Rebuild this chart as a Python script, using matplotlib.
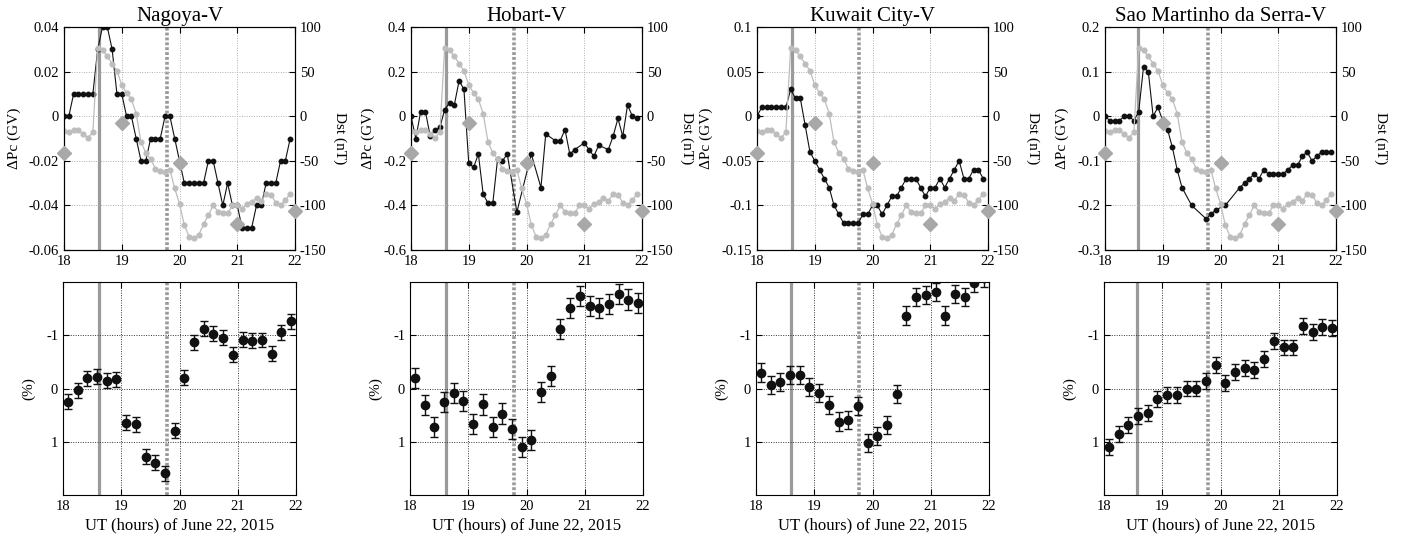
import numpy as np
import matplotlib
matplotlib.use('Agg')
import matplotlib.pyplot as plt
from matplotlib.ticker import FuncFormatter, MultipleLocator

plt.rcParams['font.family'] = ['Liberation Serif', 'DejaVu Serif']
plt.rcParams['axes.unicode_minus'] = False
plt.rcParams['mathtext.fontset'] = 'custom'

stations = ['Nagoya-V', 'Hobart-V', 'Kuwait City-V', 'Sao Martinho da Serra-V']

# 5-min time stamps (UT hours) for cutoff-rigidity and SYM-H series
t5 = 18 + np.arange(48) / 12.0
# 10-min bin centres for the count-rate series
t10 = 18 + (np.arange(24) + 0.5) / 6.0
# hourly Dst
t_dst = [18, 19, 20, 21, 22]
dst = [-41, -8, -53, -121, -106]

nan = np.nan
# geomagnetic index (5-min) shown in light grey, right axis
symh = [-17, -18, -16, -15, -20, -24, -18, 77, 74, 67, 59, 51, 35, 26, 19, 3,
        -29, -41, -48, -59, -61, -62, -60, -81, -98, -122, -135, -137, -133,
        -121, -111, -100, -107, -109, -109, -100, -100, -104, -98, -96, -92,
        -95, -87, -88, -97, -100, -94, -87]

dpc_nagoya = [0, 0, 0.01, 0.01, 0.01, 0.01, 0.01, 0.03, 0.04, 0.04, 0.03, 0.01,
              0.01, 0, 0, -0.01, -0.02, -0.02, -0.01, -0.01, -0.01, 0, 0, -0.01,
              -0.02, -0.03, -0.03, -0.03, -0.03, -0.03, -0.02, -0.02, -0.03,
              -0.04, -0.03, -0.04, -0.04, -0.05, -0.05, -0.05, -0.04, -0.04,
              -0.03, -0.03, -0.03, -0.02, -0.02, -0.01]
dpc_hobart = [0, -0.10, 0.02, 0.02, -0.09, -0.06, -0.05, 0.03, 0.06, 0.05, 0.16,
              0.12, -0.21, -0.23, -0.17, -0.35, -0.39, -0.39, -0.19, -0.20, -0.17,
              nan, -0.43, nan, nan, -0.17, nan, -0.32, -0.08, nan, -0.11, -0.11,
              -0.06, -0.17, -0.15, nan, -0.12, -0.15, -0.18, -0.13, nan, -0.15,
              -0.09, -0.01, -0.09, 0.05, 0.0, -0.01]
dpc_kuwait = [0, 0.01, 0.01, 0.01, 0.01, 0.01, 0.01, 0.03, 0.02, 0.02, -0.01,
              -0.04, -0.05, -0.06, -0.07, -0.08, -0.10, -0.11, -0.12, -0.12, -0.12,
              -0.12, -0.11, -0.11, -0.10, -0.10, -0.11, -0.10, -0.09, -0.09, -0.08,
              -0.07, -0.07, -0.07, -0.08, -0.09, -0.08, -0.08, -0.07, -0.08, -0.07,
              -0.06, -0.05, -0.07, -0.07, -0.06, -0.06, -0.07]
dpc_sao = [0, -0.01, -0.01, -0.01, 0, 0, -0.01, 0.01, 0.11, 0.10, 0, 0.02, -0.01,
           -0.03, -0.07, -0.12, -0.16, nan, -0.20, nan, nan, -0.23, -0.22, -0.21,
           nan, -0.20, nan, nan, -0.16, -0.15, -0.14, -0.13, -0.14, -0.12, -0.13,
           -0.13, -0.13, -0.13, -0.12, -0.11, -0.11, -0.09, -0.08, -0.10, -0.09,
           -0.08, -0.08, -0.08]

pct_nagoya = [0.25, 0.03, -0.19, -0.22, -0.15, -0.17, 0.64, 0.67, 1.28, 1.39,
              1.59, 0.79, -0.20, -0.87, -1.12, -1.03, -0.95, -0.63, -0.92, -0.90,
              -0.91, -0.65, -1.06, -1.26]
pct_hobart = [-0.20, 0.31, 0.73, 0.26, 0.09, 0.24, 0.66, 0.30, 0.73, 0.47, 0.76,
              1.10, 0.96, 0.07, -0.24, -1.12, -1.51, -1.73, -1.55, -1.51, -1.59,
              -1.78, -1.67, -1.61]
pct_kuwait = [-0.30, -0.06, -0.12, -0.26, -0.25, -0.03, 0.09, 0.31, 0.62, 0.59,
              0.33, 1.02, 0.90, 0.68, 0.11, -1.37, -1.72, -1.75, -1.82, -1.37,
              -1.78, -1.72, -1.98, -2.08]
pct_sao = [1.10, 0.86, 0.69, 0.52, 0.46, 0.19, 0.13, 0.12, 0.0, 0.0, -0.14,
           -0.44, -0.11, -0.31, -0.39, -0.35, -0.56, -0.90, -0.77, -0.77, -1.18,
           -1.06, -1.15, -1.13]
pct_err = [0.14, 0.19, 0.17, 0.15]

dpc_all = [dpc_nagoya, dpc_hobart, dpc_kuwait, dpc_sao]
pct_all = [pct_nagoya, pct_hobart, pct_kuwait, pct_sao]

# event times (UT hours): shock arrival (solid) and dotted marker
t_ssc = [18.61, 18.61, 18.60, 18.57]
t_dot = [19.79, 19.79, 19.77, 19.79]

# left-axis limits for the cutoff panels (min, max, step)
dpc_lims = [(-0.06, 0.04, 0.02), (-0.6, 0.4, 0.2), (-0.15, 0.1, 0.05), (-0.3, 0.2, 0.1)]

W, H = 1407, 540
fig = plt.figure(figsize=(W / 100, H / 100), dpi=100)

col_left = [64, 411, 757, 1105]
col_w = 231


def px_axes(x0, y_top, w, y_bot):
    return fig.add_axes([x0 / W, 1 - y_bot / H, w / W, (y_bot - y_top) / H])


fmt = FuncFormatter(lambda v, p: ('%g' % round(v, 4)))
GREY_L = '#bdbdbd'
GREY_M = '#9a9a9a'
tick_fs = 10.5
lab_fs = 11

for i in range(4):
    # ---------------- top panel ----------------
    ax = px_axes(col_left[i], 27, col_w, 250)
    lo, hi, st = dpc_lims[i]
    ax.set_xlim(18, 22)
    ax.set_ylim(lo, hi)
    ax.yaxis.set_major_locator(MultipleLocator(st))
    ax.xaxis.set_major_locator(MultipleLocator(1))
    ax.yaxis.set_major_formatter(fmt)
    ax.grid(True, color='#b0b0b0', linestyle=(0, (1, 1.5)), linewidth=0.7)
    ax.tick_params(direction='in', top=True, right=False, labelsize=tick_fs, length=4)
    ax.axvline(t_ssc[i], color=GREY_M, lw=2.3, zorder=1)
    ax.axvline(t_dot[i], color=GREY_M, lw=2.6, linestyle=(0, (0.8, 0.55)), zorder=1)
    y = np.array(dpc_all[i], dtype=float)
    m = ~np.isnan(y)
    ax.plot(t5[m], y[m], '-o', color='#111111', lw=0.8, ms=3.2, zorder=3)
    ax.set_ylabel('ΔPc (GV)', fontsize=lab_fs, labelpad=6)
    ax.set_title(stations[i], fontsize=15, pad=4)

    ax2 = ax.twinx()
    ax2.set_ylim(-150, 100)
    ax2.yaxis.set_major_locator(MultipleLocator(50))
    ax2.tick_params(direction='in', labelsize=tick_fs, length=4)
    ax2.plot(t5, symh, '-o', color=GREY_L, lw=0.9, ms=3.4, zorder=2)
    ax2.plot(t_dst, dst, 'D', color='#a8a8a8', ms=7, zorder=4, clip_on=False)
    ax2.set_ylabel('Dst (nT)', fontsize=lab_fs, rotation=270, labelpad=14)
    ax2.set_xlim(18, 22)

    # ---------------- bottom panel ----------------
    bx = px_axes(col_left[i] - 1, 282, col_w + 2, 495)
    bx.set_xlim(18, 22)
    bx.set_ylim(2, -2)
    bx.set_yticks([-1, 0, 1])
    bx.yaxis.set_major_formatter(fmt)
    bx.xaxis.set_major_locator(MultipleLocator(1))
    bx.grid(True, color='#333333', linestyle=(0, (1, 1.5)), linewidth=0.7)
    bx.tick_params(direction='in', top=True, right=True, labelsize=tick_fs, length=4)
    bx.axvline(t_ssc[i], color=GREY_M, lw=2.3, zorder=1)
    bx.axvline(t_dot[i], color=GREY_M, lw=2.6, linestyle=(0, (0.8, 0.55)), zorder=1)
    bx.errorbar(t10, pct_all[i], yerr=pct_err[i], fmt='o', color='#111111',
                ms=6, capsize=3.2, elinewidth=1, capthick=1, zorder=3)
    bx.set_ylabel('(%)', fontsize=lab_fs, labelpad=8)
    bx.set_xlabel('UT (hours) of June 22, 2015', fontsize=12, labelpad=3)

fig.savefig('out.png', dpi=100)
